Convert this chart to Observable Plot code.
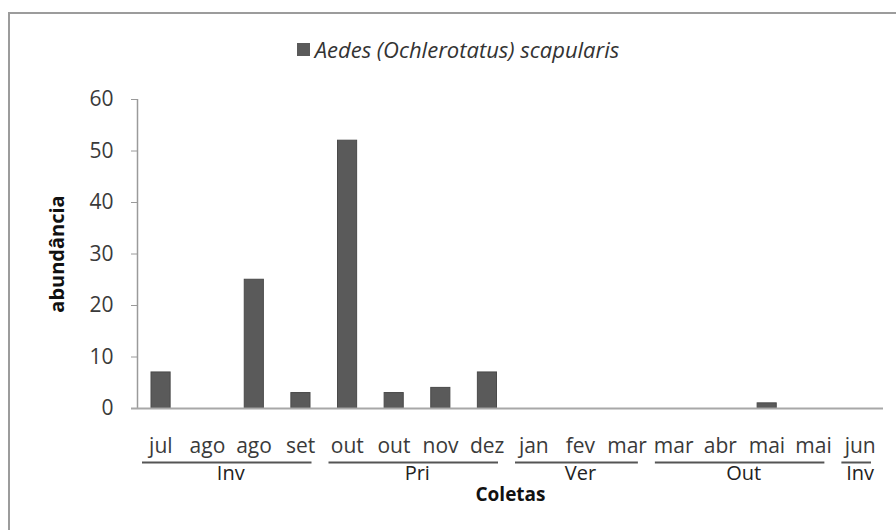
<!DOCTYPE html>
<html>
<head>
<meta charset="utf-8">
<script src="https://cdn.jsdelivr.net/npm/d3@7"></script>
<script src="https://cdn.jsdelivr.net/npm/@observablehq/plot@0.6"></script>
<style>
  html, body { margin: 0; padding: 0; background: #fff; overflow: hidden; }
  body { width: 896px; height: 530px; position: relative; font-family: "Open Sans", sans-serif; }
  #frame { position: absolute; left: 8px; top: 12px; width: 2000px; height: 2000px;
           border: 2px solid #9c9c9c; box-sizing: border-box; pointer-events: none; z-index: 10; }
  #legend { height: 70px; width: 916px; box-sizing: border-box; padding-top: 36px;
            display: flex; justify-content: center; align-items: flex-start; line-height: 26px; }
  #legend .sw { width: 13px; height: 13px; background: #5a5a5a; margin-top: 7px; margin-right: 5px; }
  #legend .lb { font-style: italic; font-size: 22px; color: #333; }
</style>
</head>
<body>
<div id="frame"></div>
<div id="legend"></div>
<div id="chart"></div>
<script>
const seriesName = "Aedes (Ochlerotatus) scapularis";
const months = ["jul","ago","ago","set","out","out","nov","dez","jan","fev","mar","mar","abr","mai","mai","jun"];
const abundance = [7,0,25,3,52,3,4,7,0,0,0,0,0,1,0,0];
const seasonNames = ["Inv","Pri","Ver","Out","Inv"];
const seasonStart = [0,4,8,11,15];
const seasonEnd = [3,7,10,14,15];
const yTicks = [0,10,20,30,40,50,60];
const yLabel = "abundância";
const xLabel = "Coletas";

const data = months.map((m, i) => ({i, m, v: abundance[i]}));
const seasons = seasonNames.map((s, k) => ({s, a: seasonStart[k], b: seasonEnd[k]}));

const legend = document.getElementById("legend");
legend.innerHTML = `<div class="sw"></div><div class="lb"></div>`;
legend.querySelector(".lb").textContent = seriesName;

const plot = Plot.plot({
  width: 896,
  height: 460,
  marginLeft: 137,
  marginRight: 13,
  marginTop: 29,
  marginBottom: 122,
  style: {fontFamily: "Open Sans", fontSize: "21px", background: "transparent", overflow: "visible"},
  x: {type: "linear", domain: [0, months.length], axis: null},
  y: {domain: [0, 60], axis: null},
  marks: [
    Plot.axisY({ticks: yTicks, tickSize: 6, tickPadding: 18, stroke: "#9a9a9a", fill: "#3a3a3a", label: null}),
    Plot.axisX({ticks: data.map(d => d.i + 0.5), tickFormat: t => months[Math.floor(t)], tickSize: 0, tickPadding: 30, fill: "#3a3a3a", label: null}),
    Plot.rectY(data, {x1: "i", x2: d => d.i + 1, y: "v", filter: d => d.v > 0, insetLeft: 14, insetRight: 13.5, fill: "#5a5a5a", stroke: "#4a4a4a", strokeWidth: 1}),
    Plot.ruleX([0], {y1: 0, y2: 60, stroke: "#9a9a9a", strokeWidth: 1.5}),
    Plot.ruleY([0], {stroke: "#a8a8a8", strokeWidth: 2, insetLeft: -6}),
    Plot.ruleY(seasons, {y: 0, x1: "a", x2: d => d.b + 1, dy: 54, insetLeft: 5, insetRight: 12, stroke: "#555", strokeWidth: 2}),
    Plot.text(seasons, {x: d => (d.a + d.b + 1) / 2, text: "s", frameAnchor: "bottom", dy: 71, fontSize: 20, fill: "#222"}),
    Plot.text([xLabel], {text: d => d, frameAnchor: "bottom", dy: 92, fontSize: 19, fontWeight: "bold", fill: "#111"}),
    Plot.text([yLabel], {text: d => d, frameAnchor: "left", textAnchor: "middle", dx: -80, rotate: -90, fontSize: 20, fontWeight: "bold", fill: "#111"})
  ]
});
document.getElementById("chart").appendChild(plot);
</script>
</body>
</html>
